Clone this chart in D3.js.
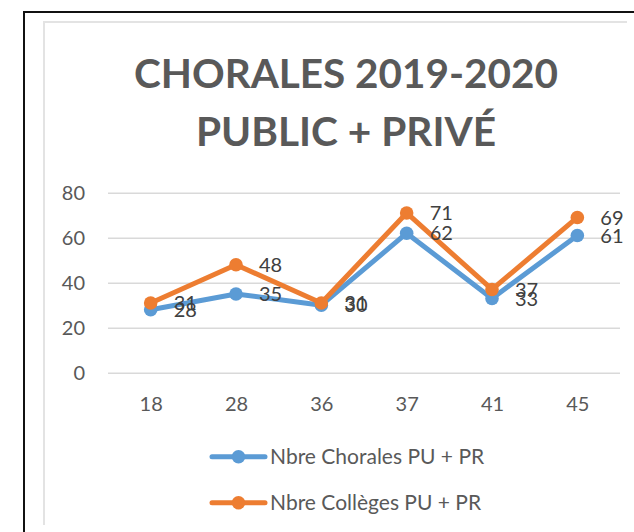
<!DOCTYPE html>
<html>
<head>
<meta charset="utf-8">
<script src="https://cdn.jsdelivr.net/npm/d3@7"></script>
<style>
  body { margin: 0; background: #fff; }
  svg { display: block; }
</style>
</head>
<body>
<div id="chart"></div>
<script>
// chart values
var categories = ["18", "28", "36", "37", "41", "45"];
var chorales_values = [28, 35, 30, 62, 33, 61];
var colleges_values = [31, 48, 31, 71, 37, 69];
var y_ticks = [0, 20, 40, 60, 80];
var series_names = ["Nbre Chorales PU + PR", "Nbre Collèges PU + PR"];
var series_colors = ["#5B9BD5", "#ED7D31"];
var title_lines = ["CHORALES 2019-2020", "PUBLIC + PRIVÉ"];

var _width = 634;
var _height = 532;
var font = "Lato, 'Open Sans', sans-serif";

var svg = d3.select("#chart").append("svg")
  .attr("width", _width)
  .attr("height", _height);

// frames
svg.append("path")
  .attr("d", "M24,540 L24,12 L640,12")
  .attr("fill", "none")
  .attr("stroke", "#111")
  .attr("stroke-width", 2);
svg.append("path")
  .attr("d", "M44,525 L44,22 L627,22")
  .attr("fill", "none")
  .attr("stroke", "#e3e3e3")
  .attr("stroke-width", 2);

// title
var title = svg.append("g")
  .attr("font-family", font)
  .attr("font-weight", 700)
  .attr("font-size", "41px")
  .attr("fill", "#595959")
  .attr("text-anchor", "middle");
var title_widths = [424, 300];
var title_baselines = [88, 146];
title_lines.forEach(function(t, i) {
  title.append("text")
    .attr("x", 346)
    .attr("y", title_baselines[i])
    .attr("textLength", title_widths[i])
    .attr("lengthAdjust", "spacingAndGlyphs")
    .text(t);
});

var x = d3.scalePoint()
  .domain(categories)
  .range([108, 620])
  .padding(0.5);
var y = d3.scaleLinear()
  .domain([0, 80])
  .range([372.7, 192.7]);

// y gridlines + labels
var y_axis = svg.append("g")
  .attr("transform", "translate(108,0)")
  .call(d3.axisLeft(y).tickValues(y_ticks).tickSize(-512).tickPadding(23));
y_axis.select(".domain").remove();
y_axis.selectAll("line")
  .attr("stroke", "#d9d9d9")
  .attr("stroke-width", 1.5);
y_axis.selectAll("text")
  .attr("font-family", font)
  .attr("font-size", "20px")
  .attr("fill", "#595959");

// x labels
var x_axis = svg.append("g")
  .attr("transform", "translate(0,372.7)")
  .call(d3.axisBottom(x).tickSize(0).tickPadding(24));
x_axis.select(".domain").remove();
x_axis.selectAll("text")
  .attr("font-family", font)
  .attr("font-size", "20px")
  .attr("fill", "#595959");

var series = [chorales_values, colleges_values];

var line = d3.line()
  .x(function(d, i) { return x(categories[i]); })
  .y(function(d) { return y(d); });

series.forEach(function(values, s) {
  var g = svg.append("g");
  g.append("path")
    .datum(values)
    .attr("d", line)
    .attr("fill", "none")
    .attr("stroke", series_colors[s])
    .attr("stroke-width", 5)
    .attr("stroke-linejoin", "round")
    .attr("stroke-linecap", "round");
  g.selectAll("circle")
    .data(values)
    .enter().append("circle")
    .attr("cx", function(d, i) { return x(categories[i]); })
    .attr("cy", function(d) { return y(d); })
    .attr("r", 6.8)
    .attr("fill", series_colors[s]);
});

// data labels (overlaps at 18, 36 and 41 are in the original too)
series.forEach(function(values, s) {
  svg.append("g")
    .selectAll("text")
    .data(values)
    .enter().append("text")
    .attr("x", function(d, i) { return x(categories[i]) + 23; })
    .attr("y", function(d) { return y(d); })
    .attr("dy", "0.36em")
    .attr("font-family", font)
    .attr("font-size", "20px")
    .attr("fill", "#404040")
    .text(function(d) { return d; });
});

// legend
var legend_y = [456.7, 502.7];
series_names.forEach(function(name, s) {
  var lg = svg.append("g")
    .attr("transform", "translate(0," + legend_y[s] + ")");
  lg.append("line")
    .attr("x1", 212).attr("x2", 265)
    .attr("stroke", series_colors[s])
    .attr("stroke-width", 5)
    .attr("stroke-linecap", "round");
  lg.append("circle")
    .attr("cx", 238.5)
    .attr("r", 6.8)
    .attr("fill", series_colors[s]);
  lg.append("text")
    .attr("x", 270)
    .attr("dy", "0.36em")
    .attr("font-family", font)
    .attr("font-size", "21px")
    .attr("fill", "#595959")
    .text(name);
});
</script>
</body>
</html>
